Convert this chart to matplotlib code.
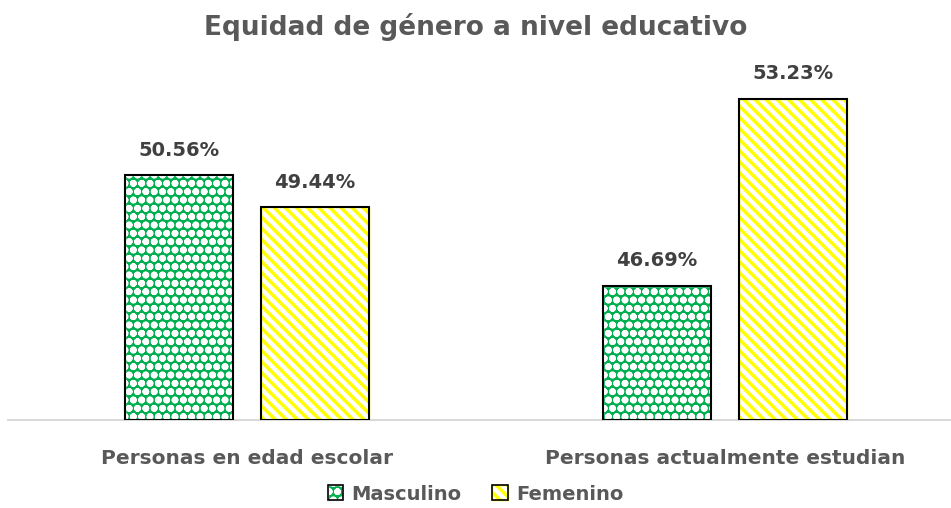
import matplotlib.pyplot as plt
from matplotlib.patches import Rectangle
from matplotlib.legend_handler import HandlerTuple
import numpy as np

plt.rcParams['hatch.linewidth'] = 2.5

categories = ['Personas en edad escolar', 'Personas actualmente estudian']
masculino = [50.56, 46.69]
femenino = [49.44, 53.23]

gray = '#595959'
fig = plt.figure(figsize=(9.51, 5.08), dpi=100)
ax = fig.add_axes([8 / 951, 1 - 420 / 508, 956 / 951, 343 / 508])

x = np.arange(len(categories))
w = 0.226
off = 0.1423
base = 42
m_style = dict(facecolor='#00B050', edgecolor='white', hatch='oo')
f_style = dict(facecolor='white', edgecolor='#FFFF00', hatch='\\\\\\')
bm = ax.bar(x - off, np.array(masculino) - base, w, bottom=base, zorder=2, **m_style)
bf = ax.bar(x + off, np.array(femenino) - base, w, bottom=base, zorder=2, **f_style)
# black outline on top of the hatch
for bars in (bm, bf):
    for r in bars:
        ax.add_patch(Rectangle(r.get_xy(), r.get_width(), r.get_height(),
                               fill=False, edgecolor='black', lw=1.5, zorder=3))

for xi, v in zip(x - off, masculino):
    ax.text(xi, v + 0.55, f'{v:.2f}%', ha='center', va='bottom', fontsize=14,
            fontweight='bold', color='#404040')
for xi, v in zip(x + off, femenino):
    ax.text(xi, v + 0.55, f'{v:.2f}%', ha='center', va='bottom', fontsize=14,
            fontweight='bold', color='#404040')

ax.set_xlim(-0.5, 1.5)
ax.set_ylim(42, 54)
ax.set_yticks([])
ax.set_xticks(x)
ax.set_xticklabels(categories, fontsize=14.5, fontweight='bold', color=gray)
ax.tick_params(axis='x', length=0, pad=21)
for s in ['top', 'right', 'left']:
    ax.spines[s].set_visible(False)
ax.spines['bottom'].set_color('#D9D9D9')
ax.spines['bottom'].set_linewidth(1.5)

fig.suptitle('Equidad de género a nivel educativo', y=0.975, fontsize=19,
             fontweight='bold', color=gray)

# legend keys: hatched square with a black border
outline = dict(fill=False, edgecolor='black', lw=1.2)
h_m = (Rectangle((0, 0), 1, 1, **m_style), Rectangle((0, 0), 1, 1, **outline))
h_f = (Rectangle((0, 0), 1, 1, **f_style), Rectangle((0, 0), 1, 1, **outline))
leg = fig.legend([h_m, h_f], ['Masculino', 'Femenino'], loc='center',
                 bbox_to_anchor=(0.5, 1 - 494 / 508), ncol=2, frameon=False,
                 handler_map={tuple: HandlerTuple(ndivide=1)},
                 handlelength=0.8, handleheight=0.8, handletextpad=0.4,
                 columnspacing=1.6, prop={'size': 14, 'weight': 'bold'})
for t in leg.get_texts():
    t.set_color(gray)

fig.savefig('out.png', dpi=100)
